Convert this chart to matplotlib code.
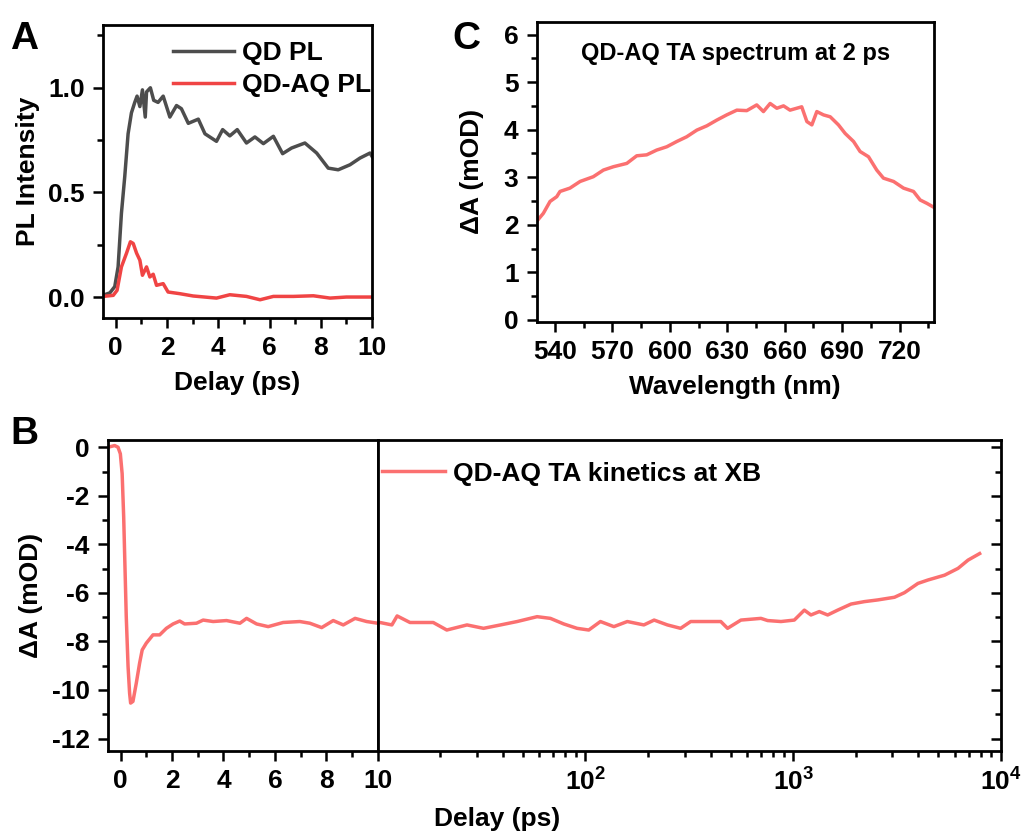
import matplotlib
matplotlib.use("Agg")
import matplotlib.pyplot as plt
from matplotlib.ticker import MultipleLocator, FixedLocator, FuncFormatter, LogLocator, NullFormatter
import numpy as np

# Panel A: PL kinetics
qd_t = [-0.51, -0.23, -0.04, 0.09, 0.22, 0.35, 0.48, 0.61, 0.74, 0.83, 0.94, 1.04, 1.15, 1.2,
        1.35, 1.48, 1.65, 1.85, 2.11, 2.37, 2.56, 2.83, 3.22, 3.48, 3.93, 4.17, 4.45, 4.74,
        5.1, 5.43, 5.76, 6.15, 6.51, 6.86, 7.38, 7.84, 8.29, 8.68, 9.14, 9.53, 9.92, 10.0]
qd_pl = [0.008, 0.02, 0.05, 0.144, 0.4, 0.576, 0.78, 0.88, 0.93, 0.96, 0.91, 0.99, 0.86, 0.98,
         1.0, 0.94, 0.93, 0.96, 0.86, 0.915, 0.90, 0.83, 0.85, 0.78, 0.744, 0.80, 0.77, 0.80,
         0.736, 0.765, 0.733, 0.768, 0.685, 0.712, 0.736, 0.688, 0.616, 0.608, 0.632, 0.664, 0.688, 0.672]
qdaq_t = [-0.5, -0.1, 0.05, 0.22, 0.42, 0.57, 0.68, 0.81, 0.94, 1.04, 1.2, 1.33, 1.46, 1.59,
          1.85, 2.04, 2.5, 3.02, 3.93, 4.45, 5.1, 5.63, 6.15, 6.93, 7.71, 8.36, 9.0, 10.0]
qdaq_pl = [0.003, 0.008, 0.032, 0.144, 0.21, 0.264, 0.256, 0.21, 0.176, 0.104, 0.144, 0.096, 0.109, 0.056,
           0.064, 0.024, 0.016, 0.005, -0.005, 0.011, 0.003, -0.013, 0.003, 0.003, 0.006, -0.005, 0.0, 0.0]

# Panel C: TA spectrum at 2 ps
wl = [530.4, 533.9, 537.4, 540.9, 542.6, 547.8, 553.1, 560.0, 565.3, 570.5, 577.5, 582.7, 587.9,
      593.1, 598.4, 603.6, 608.8, 614.1, 619.3, 624.5, 629.7, 635.0, 640.2, 645.4, 648.9, 652.4,
      655.9, 659.4, 662.8, 666.3, 668.9, 671.6, 674.2, 676.8, 680.3, 683.8, 688.1, 691.6, 696.0,
      699.4, 703.8, 708.1, 711.6, 716.9, 722.1, 727.3, 730.8, 734.3, 737.8]
dA_spec = [2.07, 2.24, 2.49, 2.59, 2.70, 2.77, 2.91, 3.01, 3.15, 3.22, 3.29, 3.45, 3.47,
           3.57, 3.64, 3.75, 3.85, 3.99, 4.08, 4.20, 4.31, 4.41, 4.40, 4.52, 4.38, 4.55,
           4.45, 4.50, 4.41, 4.45, 4.48, 4.17, 4.10, 4.38, 4.31, 4.27, 4.10, 3.92, 3.75,
           3.54, 3.43, 3.15, 2.98, 2.91, 2.77, 2.70, 2.52, 2.45, 2.37]

# Panel B: TA kinetics at XB (linear part 0-10 ps, log part 10-1e4 ps)
t_lin = [-0.49, -0.23, -0.1, -0.01, 0.06, 0.12, 0.17, 0.22, 0.29, 0.35, 0.39, 0.48, 0.61, 0.74,
         0.84, 1.0, 1.26, 1.52, 1.78, 2.04, 2.3, 2.49, 2.95, 3.21, 3.6, 4.12, 4.64, 4.9, 5.29,
         5.74, 6.32, 6.97, 7.36, 7.82, 8.27, 8.66, 9.12, 9.57, 10.0]
dA_lin = [0.0, 0.07, 0.0, -0.27, -1.09, -2.87, -4.93, -6.98, -9.03, -10.13, -10.54, -10.47, -9.72, -8.89,
          -8.35, -8.07, -7.73, -7.73, -7.46, -7.28, -7.16, -7.28, -7.25, -7.12, -7.18, -7.14, -7.25, -7.05, -7.28,
          -7.39, -7.22, -7.18, -7.25, -7.43, -7.14, -7.32, -7.05, -7.18, -7.25]
t_log = [10.0, 10.26, 11.7, 12.4, 14.3, 18.5, 21.5, 26.9, 32.3, 39, 46.9, 58.5, 67.8, 78.6, 91.1,
         103.7, 118, 137, 159, 191, 214, 248, 287, 321, 387, 448, 483, 560, 699, 753, 873, 1012,
         1131, 1217, 1335, 1465, 1637, 1898, 2200, 2553, 3072, 3433, 3983, 4449, 5353, 6213, 6941, 7893]
dA_log = [-7.25, -7.22, -7.32, -6.95, -7.22, -7.22, -7.53, -7.32, -7.46, -7.32, -7.18, -6.98, -7.05, -7.28, -7.46,
          -7.53, -7.18, -7.39, -7.18, -7.32, -7.12, -7.32, -7.46, -7.18, -7.18, -7.18, -7.46, -7.12, -7.05, -7.14, -7.18, -7.12,
          -6.71, -6.91, -6.77, -6.91, -6.71, -6.46, -6.36, -6.29, -6.18, -5.99, -5.61, -5.47, -5.27, -4.99, -4.65, -4.38]

plt.rcParams['font.family'] = ['Liberation Sans', 'DejaVu Sans']
plt.rcParams['font.weight'] = 'bold'
plt.rcParams['font.size'] = 19
plt.rcParams['axes.labelweight'] = 'bold'
plt.rcParams['axes.linewidth'] = 2.0
plt.rcParams['axes.unicode_minus'] = False
plt.rcParams['mathtext.fontset'] = 'custom'
plt.rcParams['mathtext.rm'] = 'Liberation Sans:bold'
plt.rcParams['mathtext.bf'] = 'Liberation Sans:bold'

GRAY = '#4d4d4d'
RED = '#f04444'
SALMON = '#fb7070'
LW = 2.5


def style_ticks(ax):
    ax.tick_params(which='major', direction='out', length=7, width=1.8, pad=6)
    ax.tick_params(which='minor', direction='out', length=4, width=1.8)
    ax.tick_params(top=False, right=False, which='both')


fig = plt.figure(figsize=(10.36, 8.35), dpi=100)

# --- Panel A ---
axA = fig.add_axes([0.0994, 0.6192, 0.2597, 0.3509])
axA.plot(qd_t, qd_pl, color=GRAY, lw=LW, label='QD PL')
axA.plot(qdaq_t, qdaq_pl, color=RED, lw=LW, label='QD-AQ PL')
axA.set_xlim(-0.5, 10)
axA.set_ylim(-0.1, 1.3)
axA.xaxis.set_major_locator(MultipleLocator(2))
axA.xaxis.set_minor_locator(MultipleLocator(1))
axA.yaxis.set_major_locator(FixedLocator([0.0, 0.5, 1.0]))
axA.yaxis.set_minor_locator(MultipleLocator(0.25))
axA.yaxis.set_major_formatter(FuncFormatter(lambda v, p: '%.1f' % v))
style_ticks(axA)
axA.set_xlabel('Delay (ps)', labelpad=8)
axA.set_ylabel('PL Intensity', labelpad=6)
axA.legend(loc='upper left', bbox_to_anchor=(0.26, 0.945), frameon=False, borderpad=0,
           borderaxespad=0, handlelength=2.3, handletextpad=0.3, labelspacing=0.3)

# --- Panel C ---
axC = fig.add_axes([0.518, 0.6147, 0.3835, 0.3593])
axC.plot(wl, dA_spec, color=SALMON, lw=LW)
axC.set_xlim(530.4, 738)
axC.set_ylim(-0.04, 6.27)
axC.xaxis.set_major_locator(MultipleLocator(30))
axC.xaxis.set_minor_locator(MultipleLocator(15))
axC.yaxis.set_major_locator(MultipleLocator(1))
axC.yaxis.set_minor_locator(MultipleLocator(0.5))
style_ticks(axC)
axC.set_xlabel('Wavelength (nm)', labelpad=8)
axC.set_ylabel('ΔA (mOD)', labelpad=14)
axC.text(0.5, 0.895, 'QD-AQ TA spectrum at 2 ps', transform=axC.transAxes,
         ha='center', va='center', fontsize=17, fontweight='bold')

# --- Panel B (split axis) ---
axB1 = fig.add_axes([0.104, 0.101, 0.2606, 0.3721])
axB2 = fig.add_axes([0.3646, 0.101, 0.6016, 0.3721])

axB1.plot(t_lin, dA_lin, color=SALMON, lw=LW)
axB1.set_xlim(-0.5, 10)
axB1.set_ylim(-12.5, 0.3)
axB1.xaxis.set_major_locator(MultipleLocator(2))
axB1.xaxis.set_minor_locator(MultipleLocator(1))
axB1.yaxis.set_major_locator(MultipleLocator(2))
axB1.yaxis.set_minor_locator(MultipleLocator(1))
style_ticks(axB1)
axB1.set_ylabel('ΔA (mOD)', labelpad=6)

axB2.plot(t_log, dA_log, color=SALMON, lw=LW, label='QD-AQ TA kinetics at XB')
axB2.set_xscale('log')
axB2.set_xlim(10, 1e4)
axB2.set_ylim(-12.5, 0.3)
axB2.xaxis.set_major_locator(FixedLocator([100, 1000, 10000]))
axB2.xaxis.set_major_formatter(FuncFormatter(lambda v, p: r'$\mathbf{10^{%d}}$' % round(np.log10(v))))
axB2.xaxis.set_minor_locator(LogLocator(base=10, subs=np.arange(2, 10), numticks=20))
axB2.xaxis.set_minor_formatter(NullFormatter())
axB2.yaxis.set_major_locator(MultipleLocator(2))
axB2.yaxis.set_minor_locator(MultipleLocator(1))
axB2.tick_params(axis='x', which='major', direction='out', length=7, width=1.8, pad=6)
axB2.tick_params(axis='x', which='minor', direction='out', length=4, width=1.8)
axB2.tick_params(axis='y', which='major', direction='in', length=7, width=1.8,
                 left=False, right=True, labelleft=False, labelright=False)
axB2.tick_params(axis='y', which='minor', direction='in', length=4, width=1.8,
                 left=False, right=True)
axB2.legend(loc='upper left', bbox_to_anchor=(0.0064, 0.93), frameon=False, borderpad=0,
            borderaxespad=0, handlelength=2.4, handletextpad=0.3)

fig.text(0.48, 0.005, 'Delay (ps)', ha='center', va='bottom', fontsize=19, fontweight='bold')

# panel letters
fig.text(0.01, 0.975, 'A', fontsize=28, fontweight='bold', va='top')
fig.text(0.437, 0.975, 'C', fontsize=28, fontweight='bold', va='top')
fig.text(0.01, 0.502, 'B', fontsize=28, fontweight='bold', va='top')

fig.savefig('out.png', dpi=100)
